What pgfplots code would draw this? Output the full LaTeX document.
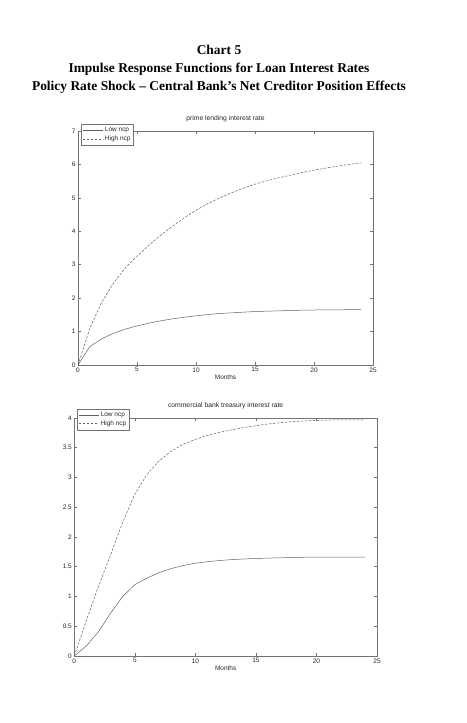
\documentclass[border=0pt]{standalone}
\usepackage{fontspec}
\setmainfont{Liberation Sans}
\newfontfamily\titlefont[Ligatures=TeX]{Liberation Serif}
\usepackage{pgfplots}
\pgfplotsset{compat=1.18}
\usepackage{pgfplotstable}

\pgfplotstableread{
t low high
0 0 0
1 0.55 1.10
2 0.78 1.87
3 0.95 2.45
4 1.07 2.90
5 1.17 3.25
6 1.25 3.58
7 1.32 3.88
8 1.38 4.15
9 1.43 4.40
10 1.47 4.63
11 1.51 4.83
12 1.54 5.00
13 1.56 5.15
14 1.58 5.29
15 1.60 5.41
16 1.61 5.51
17 1.62 5.60
18 1.63 5.68
19 1.64 5.76
20 1.645 5.83
21 1.65 5.89
22 1.65 5.95
23 1.655 6.00
24 1.655 6.05
}\prime

\pgfplotstableread{
t low high
0 0 0
1 0.17 0.60
2 0.41 1.17
3 0.72 1.70
4 1.00 2.25
5 1.20 2.72
6 1.31 3.05
7 1.40 3.28
8 1.47 3.44
9 1.52 3.56
10 1.56 3.64
11 1.585 3.71
12 1.605 3.76
13 1.62 3.80
14 1.63 3.84
15 1.64 3.87
16 1.645 3.90
17 1.65 3.92
18 1.655 3.94
19 1.66 3.95
20 1.66 3.96
21 1.66 3.965
22 1.66 3.97
23 1.66 3.97
24 1.66 3.97
}\treasury

\definecolor{axgray}{gray}{0.45}
\definecolor{lngray}{gray}{0.38}

\pgfplotsset{
  ircommon/.style={
    scale only axis,
    xmin=0, xmax=25, ymin=0,
    xtick={0,5,10,15,20,25},
    tick pos=both,
    tick align=inside,
    major tick length=3bp,
    axis line style={axgray, line width=0.6pt},
    every tick/.style={axgray, line width=0.5pt},
    /pgf/number format/assume math mode=true,
    tick label style={font=\fontsize{6.5}{7}\selectfont, black!85},
    xticklabel style={yshift=1bp},
    yticklabel style={xshift=1bp},
    xlabel={Months},
    xlabel style={font=\fontsize{6.5}{7}\selectfont, black!85, yshift=4bp},
    title style={font=\fontsize{6.8}{8}\selectfont, black!85, anchor=base, at={(rel axis cs:0.5,1)}, yshift=5bp},
    legend cell align=left,
    legend style={font=\fontsize{6.5}{7.5}\selectfont, draw=axgray, line width=0.5pt, inner sep=1bp, row sep=-1.5bp, anchor=north west, text=black!85},
    legend image code/.code={\draw[##1] (0bp,0bp) -- (20bp,0bp);},
  }
}

\begin{document}
\begin{tikzpicture}
\useasboundingbox (0,0) rectangle (467bp,723bp);

\node[anchor=base, font=\titlefont\bfseries\fontsize{13.5}{15}\selectfont] at (219bp,668bp) {Chart 5};
\node[anchor=base, font=\titlefont\bfseries\fontsize{13.5}{15}\selectfont] at (219bp,650bp) {Impulse Response Functions for Loan Interest Rates};
\node[anchor=base, font=\titlefont\bfseries\fontsize{13.5}{15}\selectfont] at (219bp,632.5bp) {Policy Rate Shock – Central Bank’s Net Creditor Position Effects};

\begin{axis}[ircommon,
  at={(78bp,358bp)}, anchor=south west,
  width=295bp, height=234bp,
  ymax=7, ytick={0,1,2,3,4,5,6,7},
  title={prime lending interest rate},
  legend style={at={(0.011,1.03)}},
]
\addplot[lngray, line width=0.5pt] table[x=t, y=low] {\prime};
\addlegendentry{Low ncp}
\addplot[lngray, line width=0.5pt, dash pattern=on 2.5bp off 1.5bp] table[x=t, y=high] {\prime};
\addlegendentry{High ncp}
\end{axis}

\begin{axis}[ircommon,
  at={(74.3bp,67bp)}, anchor=south west,
  width=302.7bp, height=238bp,
  ymax=4, ytick={0,0.5,1,1.5,2,2.5,3,3.5,4},
  title={commercial bank treasury interest rate},
  legend style={at={(0.009,1.038)}},
]
\addplot[lngray, line width=0.5pt] table[x=t, y=low] {\treasury};
\addlegendentry{Low ncp}
\addplot[lngray, line width=0.5pt, dash pattern=on 2.5bp off 1.5bp] table[x=t, y=high] {\treasury};
\addlegendentry{High ncp}
\end{axis}
\end{tikzpicture}
\end{document}
